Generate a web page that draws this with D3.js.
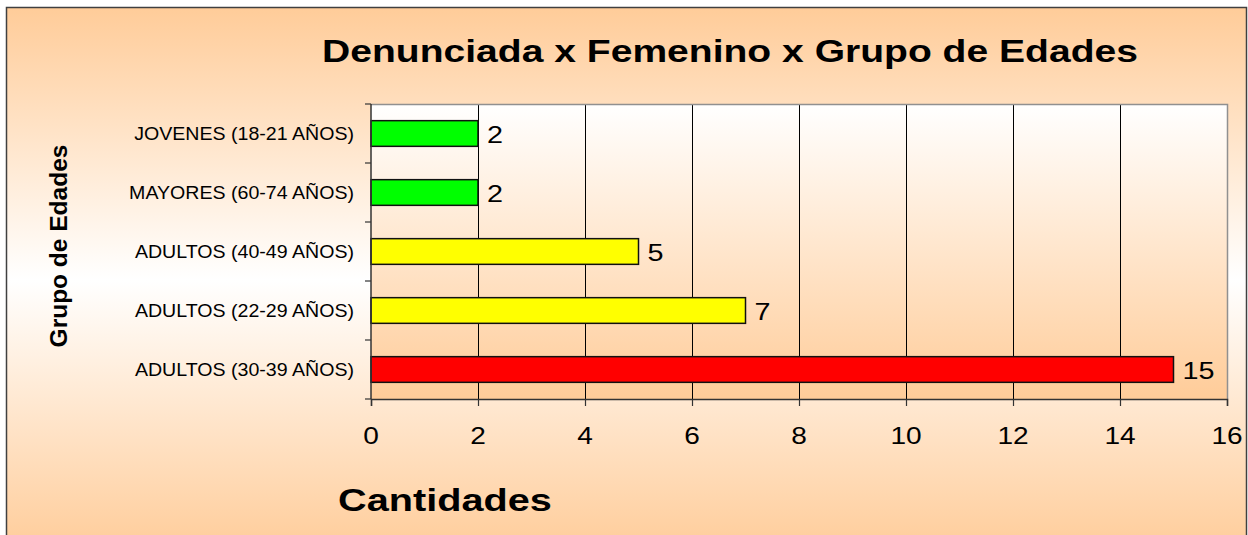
<!DOCTYPE html>
<html><head><meta charset="utf-8">
<script src="https://cdn.jsdelivr.net/npm/d3@7"></script>
<style>html,body{margin:0;padding:0;background:#fff;}svg{display:block;font-family:"Liberation Sans",Arial,sans-serif;}</style>
</head><body>
<script>
const categories = ["JOVENES (18-21 AÑOS)","MAYORES (60-74 AÑOS)","ADULTOS (40-49 AÑOS)","ADULTOS (22-29 AÑOS)","ADULTOS (30-39 AÑOS)"];
const values = [2,2,5,7,15];
const barColors = ["#00FF00","#00FF00","#FFFF00","#FFFF00","#FF0000"];
const xTicks = [0,2,4,6,8,10,12,14,16];
const title = "Denunciada x Femenino x Grupo de Edades";
const xTitle = "Cantidades";
const yTitle = "Grupo de Edades";

const W = 1248, H = 535;
const svg = d3.select("body").append("svg").attr("width", W).attr("height", H);
const defs = svg.append("defs");
const g1 = defs.append("linearGradient").attr("id","bgGrad").attr("x1",0).attr("y1",0).attr("x2",0).attr("y2",1);
g1.append("stop").attr("offset","0%").attr("stop-color","#FFCC99");
g1.append("stop").attr("offset","50%").attr("stop-color","#FFFFFF");
g1.append("stop").attr("offset","100%").attr("stop-color","#FFCC99");
const g2 = defs.append("linearGradient").attr("id","plotGrad").attr("x1",0).attr("y1",0).attr("x2",0).attr("y2",1);
g2.append("stop").attr("offset","0%").attr("stop-color","#FFFFFF");
g2.append("stop").attr("offset","100%").attr("stop-color","#FFCC99");

// outer chart area
svg.append("rect").attr("x",6.5).attr("y",7.5).attr("width",1240).attr("height",545)
  .attr("fill","url(#bgGrad)").attr("stroke","#404040").attr("stroke-width",1.5);

const plot = {left:371, right:1227, top:104, bottom:399};
const x = d3.scaleLinear().domain([0,16]).range([plot.left, plot.right]);
const y = d3.scaleBand().domain(categories).range([plot.top, plot.bottom]).paddingInner(0.565).paddingOuter(0.2825);

// plot area
svg.append("rect").attr("x",plot.left).attr("y",plot.top).attr("width",plot.right-plot.left).attr("height",plot.bottom-plot.top)
  .attr("fill","url(#plotGrad)");
// gridlines
svg.append("g").selectAll("line").data(xTicks.filter(d=>d>0 && d<16)).join("line")
  .attr("x1",d=>Math.round(x(d))+0.5).attr("x2",d=>Math.round(x(d))+0.5)
  .attr("y1",plot.top).attr("y2",plot.bottom).attr("stroke","#000").attr("stroke-width",1);
// plot border top/right
svg.append("path").attr("d",`M${plot.left},${plot.top+0.5}H${plot.right+0.5}V${plot.bottom}`)
  .attr("fill","none").attr("stroke","#909090").attr("stroke-width",1.5);

// bars
svg.append("g").selectAll("rect").data(categories).join("rect")
  .attr("x",x(0)).attr("y",d=>y(d)).attr("width",(d,i)=>x(values[i])-x(0)).attr("height",y.bandwidth())
  .attr("fill",(d,i)=>barColors[i]).attr("stroke","#111").attr("stroke-width",1.5);

// x axis
const xAxis = d3.axisBottom(x).tickValues(xTicks).tickSize(7).tickFormat("");
const xa = svg.append("g").attr("transform",`translate(0,${plot.bottom})`).call(xAxis);
xa.select(".domain").attr("stroke","#333").attr("stroke-width",1.5);
xa.selectAll(".tick line").attr("stroke","#333").attr("stroke-width",1.2);
svg.append("g").selectAll("text").data(xTicks).join("text")
  .attr("transform",d=>`translate(${x(d)},444) scale(1.22,1)`)
  .attr("text-anchor","middle").attr("font-size",23).attr("fill","#000").text(d=>d);

// y axis
const step = y.step();
const yTickPos = d3.range(categories.length+1).map(i=>plot.top + i*step);
svg.append("line").attr("x1",plot.left).attr("x2",plot.left).attr("y1",plot.top).attr("y2",plot.bottom)
  .attr("stroke","#333").attr("stroke-width",1.5);
svg.append("g").selectAll("line").data(yTickPos).join("line")
  .attr("x1",plot.left-6).attr("x2",plot.left).attr("y1",d=>d).attr("y2",d=>d)
  .attr("stroke","#333").attr("stroke-width",1.2);
svg.append("g").selectAll("text").data(categories).join("text")
  .attr("transform",d=>`translate(354,${y(d)+y.bandwidth()/2+6.5}) scale(1.12,1)`)
  .attr("text-anchor","end").attr("font-size",17.5).attr("fill","#000").text(d=>d);

// value labels
svg.append("g").selectAll("text").data(categories).join("text")
  .attr("transform",(d,i)=>`translate(${x(values[i])+9},${y(d)+y.bandwidth()/2+9}) scale(1.25,1)`)
  .attr("font-size",23).attr("fill","#000").text((d,i)=>values[i]);

// titles
svg.append("text").attr("transform","translate(730,62) scale(1.26,1)").attr("text-anchor","middle")
  .attr("font-size",31).attr("font-weight","bold").text(title);
svg.append("text").attr("transform","translate(445,511) scale(1.24,1)").attr("text-anchor","middle")
  .attr("font-size",32).attr("font-weight","bold").text(xTitle);
svg.append("text").attr("transform","translate(67,246) rotate(-90)").attr("text-anchor","middle")
  .attr("font-size",24.5).attr("font-weight","bold").text(yTitle);
</script>
</body></html>
